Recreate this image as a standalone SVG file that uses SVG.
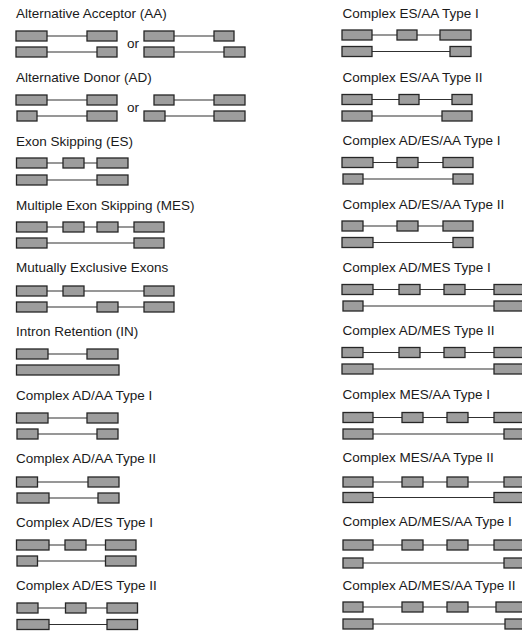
<svg xmlns="http://www.w3.org/2000/svg" width="522" height="632" viewBox="0 0 522 632">
<style>
text{font-family:"Liberation Sans",Arial,sans-serif;font-size:13.5px;fill:#1a1a1a}
rect.e{height:10px;fill:#9d9d9d;stroke:#262626;stroke-width:1.3}
line{stroke:#303030;stroke-width:1.2}
</style>
<rect width="522" height="632" fill="#ffffff"/>
<g id="aa">
<text x="16" y="18">Alternative Acceptor (AA)</text>
<line x1="16" y1="36" x2="117" y2="36"/><rect class="e" x="16" y="31" width="31" height="10"/><rect class="e" x="87" y="31" width="30" height="10"/>
<line x1="16" y1="52" x2="117" y2="52"/><rect class="e" x="16" y="47" width="31" height="10"/><rect class="e" x="97" y="47" width="20" height="10"/>
<text x="127" y="48">or</text>
<line x1="144" y1="36" x2="234" y2="36"/><rect class="e" x="144" y="31" width="30" height="10"/><rect class="e" x="214" y="31" width="20" height="10"/>
<line x1="144" y1="52" x2="245" y2="52"/><rect class="e" x="144" y="47" width="30" height="10"/><rect class="e" x="224" y="47" width="21" height="10"/>
</g>
<g id="ad">
<text x="16" y="82">Alternative Donor (AD)</text>
<line x1="16" y1="100" x2="117" y2="100"/><rect class="e" x="16" y="95" width="31" height="10"/><rect class="e" x="87" y="95" width="30" height="10"/>
<line x1="17" y1="116" x2="117" y2="116"/><rect class="e" x="17" y="111" width="20" height="10"/><rect class="e" x="87" y="111" width="30" height="10"/>
<text x="127" y="112">or</text>
<line x1="154" y1="100" x2="245" y2="100"/><rect class="e" x="154" y="95" width="20" height="10"/><rect class="e" x="214" y="95" width="31" height="10"/>
<line x1="144" y1="116" x2="245" y2="116"/><rect class="e" x="144" y="111" width="21" height="10"/><rect class="e" x="214" y="111" width="31" height="10"/>
</g>
<g id="es">
<text x="16" y="146">Exon Skipping (ES)</text>
<line x1="16.5" y1="163" x2="128" y2="163"/><rect class="e" x="16.5" y="158" width="30.5" height="10"/><rect class="e" x="63" y="158" width="21" height="10"/><rect class="e" x="97" y="158" width="31" height="10"/>
<line x1="16.5" y1="180" x2="128" y2="180"/><rect class="e" x="16.5" y="175" width="30.5" height="10"/><rect class="e" x="97" y="175" width="31" height="10"/>
</g>
<g id="mes">
<text x="16" y="210">Multiple Exon Skipping (MES)</text>
<line x1="16.5" y1="227" x2="164" y2="227"/><rect class="e" x="16.5" y="222" width="30.5" height="10"/><rect class="e" x="63" y="222" width="21" height="10"/><rect class="e" x="97" y="222" width="21" height="10"/><rect class="e" x="134" y="222" width="30" height="10"/>
<line x1="16.5" y1="243" x2="164" y2="243"/><rect class="e" x="16.5" y="238" width="30.5" height="10"/><rect class="e" x="134" y="238" width="30" height="10"/>
</g>
<g id="mxe">
<text x="16" y="272">Mutually Exclusive Exons</text>
<line x1="16.5" y1="291" x2="174" y2="291"/><rect class="e" x="16.5" y="286" width="30.5" height="10"/><rect class="e" x="63" y="286" width="21" height="10"/><rect class="e" x="144" y="286" width="30" height="10"/>
<line x1="16.5" y1="307" x2="174" y2="307"/><rect class="e" x="16.5" y="302" width="30.5" height="10"/><rect class="e" x="97" y="302" width="21" height="10"/><rect class="e" x="144" y="302" width="30" height="10"/>
</g>
<g id="in">
<text x="16" y="336">Intron Retention (IN)</text>
<line x1="16.5" y1="354" x2="118" y2="354"/><rect class="e" x="16.5" y="349" width="31.5" height="10"/><rect class="e" x="87" y="349" width="31" height="10"/>
<rect class="e" x="16.5" y="365" width="102.5" height="10"/>
</g>
<g id="ad-aa-1">
<text x="16" y="400">Complex AD/AA Type I</text>
<line x1="16.5" y1="418" x2="118" y2="418"/><rect class="e" x="16.5" y="413" width="31.5" height="10"/><rect class="e" x="87" y="413" width="31" height="10"/>
<line x1="17" y1="434" x2="118" y2="434"/><rect class="e" x="17" y="429" width="21" height="10"/><rect class="e" x="97" y="429" width="21" height="10"/>
</g>
<g id="ad-aa-2">
<text x="16" y="463">Complex AD/AA Type II</text>
<line x1="16.5" y1="482" x2="119" y2="482"/><rect class="e" x="16.5" y="477" width="21" height="10"/><rect class="e" x="88" y="477" width="31" height="10"/>
<line x1="17" y1="498" x2="119" y2="498"/><rect class="e" x="17" y="493" width="32" height="10"/><rect class="e" x="98" y="493" width="21" height="10"/>
</g>
<g id="ad-es-1">
<text x="16" y="527">Complex AD/ES Type I</text>
<line x1="16.5" y1="545" x2="136" y2="545"/><rect class="e" x="16.5" y="540" width="32.5" height="10"/><rect class="e" x="65" y="540" width="21" height="10"/><rect class="e" x="105.5" y="540" width="30.5" height="10"/>
<line x1="17" y1="561" x2="136" y2="561"/><rect class="e" x="17" y="556" width="20.5" height="10"/><rect class="e" x="105.5" y="556" width="30.5" height="10"/>
</g>
<g id="ad-es-2">
<text x="16" y="590">Complex AD/ES Type II</text>
<line x1="17" y1="608" x2="137.5" y2="608"/><rect class="e" x="17" y="603" width="21" height="10"/><rect class="e" x="65.5" y="603" width="20.5" height="10"/><rect class="e" x="107" y="603" width="30.5" height="10"/>
<line x1="17" y1="624.5" x2="137.5" y2="624.5"/><rect class="e" x="17" y="619.5" width="32" height="10"/><rect class="e" x="107" y="619.5" width="30.5" height="10"/>
</g>
<g id="es-aa-1">
<text x="342.5" y="17.5">Complex ES/AA Type I</text>
<line x1="342" y1="35" x2="471" y2="35"/><rect class="e" x="342" y="30" width="30" height="10"/><rect class="e" x="397" y="30" width="20" height="10"/><rect class="e" x="440" y="30" width="31" height="10"/>
<line x1="342" y1="51.5" x2="471" y2="51.5"/><rect class="e" x="342" y="46.5" width="30" height="10"/><rect class="e" x="450" y="46.5" width="21" height="10"/>
</g>
<g id="es-aa-2">
<text x="342.5" y="82">Complex ES/AA Type II</text>
<line x1="342" y1="99.5" x2="472" y2="99.5"/><rect class="e" x="342" y="94.5" width="30" height="10"/><rect class="e" x="399" y="94.5" width="20" height="10"/><rect class="e" x="452" y="94.5" width="20" height="10"/>
<line x1="342" y1="116" x2="472" y2="116"/><rect class="e" x="342" y="111" width="30" height="10"/><rect class="e" x="442" y="111" width="30" height="10"/>
</g>
<g id="ad-es-aa-1">
<text x="342.5" y="144.5">Complex AD/ES/AA Type I</text>
<line x1="342" y1="162.5" x2="473" y2="162.5"/><rect class="e" x="342" y="157.5" width="31" height="10"/><rect class="e" x="397" y="157.5" width="21" height="10"/><rect class="e" x="443" y="157.5" width="30" height="10"/>
<line x1="343" y1="179" x2="473" y2="179"/><rect class="e" x="343" y="174" width="20" height="10"/><rect class="e" x="453" y="174" width="20" height="10"/>
</g>
<g id="ad-es-aa-2">
<text x="342.5" y="208.5">Complex AD/ES/AA Type II</text>
<line x1="342" y1="226" x2="473" y2="226"/><rect class="e" x="342" y="221" width="21" height="10"/><rect class="e" x="397" y="221" width="21" height="10"/><rect class="e" x="443" y="221" width="30" height="10"/>
<line x1="342" y1="242.5" x2="473" y2="242.5"/><rect class="e" x="342" y="237.5" width="31" height="10"/><rect class="e" x="453" y="237.5" width="20" height="10"/>
</g>
<g id="ad-mes-1">
<text x="342.5" y="272">Complex AD/MES Type I</text>
<line x1="342" y1="289.5" x2="540" y2="289.5"/><rect class="e" x="342" y="284.5" width="31" height="10"/><rect class="e" x="399" y="284.5" width="21" height="10"/><rect class="e" x="444" y="284.5" width="21" height="10"/><rect class="e" x="494" y="284.5" width="46" height="10"/>
<line x1="343" y1="306" x2="540" y2="306"/><rect class="e" x="343" y="301" width="20" height="10"/><rect class="e" x="494" y="301" width="46" height="10"/>
</g>
<g id="ad-mes-2">
<text x="342.5" y="335">Complex AD/MES Type II</text>
<line x1="342" y1="352.5" x2="540" y2="352.5"/><rect class="e" x="342" y="347.5" width="21" height="10"/><rect class="e" x="399" y="347.5" width="21" height="10"/><rect class="e" x="444" y="347.5" width="21" height="10"/><rect class="e" x="494" y="347.5" width="46" height="10"/>
<line x1="342" y1="369" x2="540" y2="369"/><rect class="e" x="342" y="364" width="31" height="10"/><rect class="e" x="494" y="364" width="46" height="10"/>
</g>
<g id="mes-aa-1">
<text x="342.5" y="398.5">Complex MES/AA Type I</text>
<line x1="343" y1="417.5" x2="540" y2="417.5"/><rect class="e" x="343" y="412.5" width="30" height="10"/><rect class="e" x="402" y="412.5" width="21" height="10"/><rect class="e" x="447" y="412.5" width="21" height="10"/><rect class="e" x="494" y="412.5" width="46" height="10"/>
<line x1="343" y1="434" x2="540" y2="434"/><rect class="e" x="343" y="429" width="30" height="10"/><rect class="e" x="504" y="429" width="36" height="10"/>
</g>
<g id="mes-aa-2">
<text x="342.5" y="462">Complex MES/AA Type II</text>
<line x1="343" y1="482" x2="540" y2="482"/><rect class="e" x="343" y="477" width="30" height="10"/><rect class="e" x="402" y="477" width="21" height="10"/><rect class="e" x="447" y="477" width="21" height="10"/><rect class="e" x="504" y="477" width="36" height="10"/>
<line x1="343" y1="497.5" x2="540" y2="497.5"/><rect class="e" x="343" y="492.5" width="30" height="10"/><rect class="e" x="494" y="492.5" width="46" height="10"/>
</g>
<g id="ad-mes-aa-1">
<text x="342.5" y="526">Complex AD/MES/AA Type I</text>
<line x1="343" y1="545" x2="540" y2="545"/><rect class="e" x="343" y="540" width="30" height="10"/><rect class="e" x="402" y="540" width="21" height="10"/><rect class="e" x="447" y="540" width="21" height="10"/><rect class="e" x="494" y="540" width="46" height="10"/>
<line x1="343" y1="563" x2="540" y2="563"/><rect class="e" x="343" y="558" width="20" height="10"/><rect class="e" x="504" y="558" width="36" height="10"/>
</g>
<g id="ad-mes-aa-2">
<text x="342.5" y="589.5">Complex AD/MES/AA Type II</text>
<line x1="343" y1="607" x2="540" y2="607"/><rect class="e" x="343" y="602" width="20" height="10"/><rect class="e" x="402" y="602" width="21" height="10"/><rect class="e" x="447" y="602" width="21" height="10"/><rect class="e" x="496" y="602" width="44" height="10"/>
<line x1="343" y1="624" x2="540" y2="624"/><rect class="e" x="343" y="619" width="30" height="10"/><rect class="e" x="505" y="619" width="35" height="10"/>
</g>
</svg>
